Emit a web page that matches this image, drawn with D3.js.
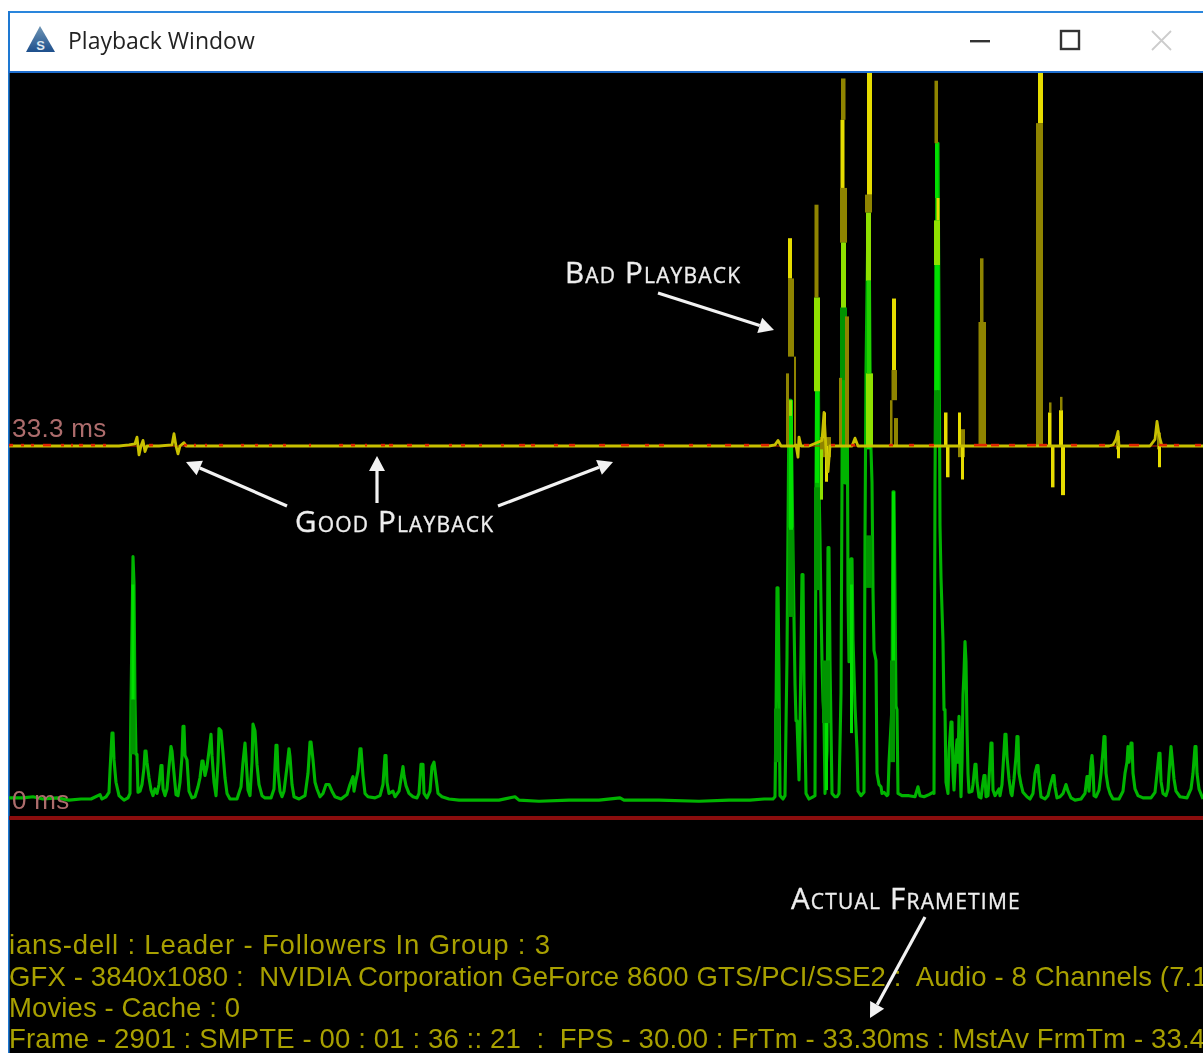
<!DOCTYPE html>
<html><head><meta charset="utf-8">
<style>html,body{margin:0;padding:0;background:#fff;overflow:hidden}svg{display:block}</style>
<script src="https://cdn.jsdelivr.net/npm/d3@7"></script></head><body>
<script>
// frame index, frametime (ms)
const greenTrace=[[0,1.8],[14,1.8],[24,1.9],[34,1.7],[48,1.8],[60,1.6],[72,1.7],[82,1.7],[91,2.1],[93,1.7],[97,1.9],[100,2.3],[101,4.2],[103,7.6],[104,7.6],[105,5.2],[107,3.2],[110,2.0],[115,1.6],[119,1.8],[121,2.2],[122,10.5],[124,23.4],[125,21],[126,10.5],[127,5.7],[128,5.7],[129,2.3],[131,2.4],[133,3.0],[135,4.5],[136,6.0],[137,6.0],[138,5.0],[140,3.6],[142,2.5],[144,2.0],[146,2.6],[148,2.2],[150,3.0],[152,4.7],[153,4.7],[154,2.6],[156,2.0],[158,2.6],[160,4.6],[162,6.4],[163,6.0],[165,4.0],[167,2.1],[169,2.0],[171,3.2],[173,5.5],[174,8.2],[175,8.2],[176,5.6],[178,5.2],[180,2.4],[183,1.8],[186,1.9],[189,2.8],[191,3.6],[193,5.1],[194,5.1],[196,3.8],[198,4.6],[200,6.0],[202,7.5],[203,5.6],[205,3.2],[207,2.0],[209,5.0],[210,8.0],[212,7.8],[214,5.8],[216,3.6],[218,2.2],[221,1.7],[228,1.7],[232,2.8],[234,5.0],[236,6.7],[237,5.4],[239,2.5],[241,2.0],[243,5.0],[244,8.4],[246,7.8],[248,4.8],[250,3.0],[253,2.0],[256,1.8],[262,1.8],[265,2.6],[267,6.5],[268,6.5],[269,4.2],[271,2.4],[273,1.9],[275,2.4],[278,4.6],[280,6.2],[281,5.5],[283,3.0],[285,1.9],[290,1.7],[296,2.0],[299,4.0],[301,6.8],[302,6.8],[304,5.2],[306,3.2],[308,2.6],[311,1.9],[314,2.2],[317,3.0],[320,3.0],[323,2.4],[326,1.9],[332,1.7],[338,2.1],[341,3.0],[344,3.7],[345,2.4],[347,3.4],[349,4.2],[351,6.2],[352,6.2],[354,3.8],[356,2.2],[359,1.9],[366,1.8],[371,2.0],[374,3.0],[376,5.6],[377,5.6],[378,3.2],[380,2.2],[384,2.4],[386,1.9],[390,2.4],[392,3.5],[394,4.6],[395,3.8],[397,2.9],[400,2.2],[404,1.9],[408,1.8],[410,2.2],[412,4.8],[414,4.8],[415,2.2],[418,1.8],[421,2.4],[423,4.6],[425,5.0],[427,3.6],[429,2.2],[433,1.9],[440,1.7],[450,1.6],[470,1.6],[490,1.6],[506,1.9],[510,1.6],[530,1.5],[560,1.6],[590,1.6],[611,1.8],[615,1.6],[650,1.6],[690,1.5],[720,1.6],[741,1.6],[755,1.7],[764,1.7],[766,1.9],[767,9],[768,20.6],[769,20.6],[770,13],[771,2.0],[774,1.7],[776,2.0],[778,14.4],[780,37.4],[782,37.4],[784,24],[785,17.9],[786,12],[787,8.7],[788,8.7],[790,3.4],[791,8],[793,21.8],[794,21.8],[795,12],[796,7.8],[797,2.2],[800,1.7],[804,1.9],[806,2.0],[807,30],[808,46.4],[809,46.4],[810,30],[811,25],[812,19],[813,14],[814,10.5],[815,9],[816,2.2],[818,6],[819,24.2],[820,24.2],[821,14],[823,2.2],[826,1.9],[828,1.9],[830,2.2],[832,11.2],[833,30],[834,51.5],[835,51.5],[836,30],[837,43],[838,43],[839,20],[840,14],[842,23.2],[843,23.2],[844,16],[846,10],[848,6.1],[849,2.4],[852,2.0],[855,2.3],[856,25],[857,40],[859,54],[860,54],[861,41],[862,33],[863,30],[864,20.4],[865,15],[867,14.1],[868,4],[870,3],[872,2.8],[873,2.2],[875,2.3],[876,2.2],[878,2],[879,2.1],[880,5],[883,10],[884,29.2],[885,29.2],[886,20],[887,10],[888,9.7],[889,2.2],[893,2.0],[900,2.0],[906,1.9],[909,2.8],[911,2.0],[915,1.9],[920,2.1],[924,2.3],[925,2.2],[926,30],[928,60.4],[929,60.4],[930,45],[931,26.2],[932,21.5],[934,15.8],[935,9.7],[936,9.7],[937,3.2],[939,2.2],[940,6],[942,8.6],[943,8.6],[944,4],[945,2.5],[947,6],[948,7],[949,5],[950,9.1],[951,5],[952,1.9],[953,5],[954,11],[955,13],[956,15.8],[957,14],[958,8],[959,4],[960,2.3],[963,2.4],[964,3],[966,4.8],[967,4.8],[968,3.2],[970,1.9],[972,1.8],[974,3.2],[975,3.8],[976,3.8],[977,1.9],[979,2],[980,3.5],[982,6.7],[983,6.7],[984,2.5],[986,2.0],[988,2.3],[990,2.6],[991,2.0],[993,3],[995,6],[996,7.5],[997,7.5],[998,5.5],[1000,3.5],[1002,2.2],[1003,2],[1005,3.5],[1007,5.5],[1008,7.3],[1009,7.3],[1010,4],[1012,3],[1014,2.3],[1018,1.9],[1021,1.7],[1024,2.2],[1026,4],[1028,4.7],[1029,4.7],[1030,3.5],[1032,1.9],[1036,1.7],[1039,2],[1041,2.8],[1044,3.8],[1045,3.8],[1046,2.8],[1048,1.8],[1051,1.9],[1054,2.2],[1057,3.0],[1059,2.4],[1062,1.8],[1066,1.6],[1072,1.7],[1076,2.2],[1078,3.7],[1079,3.7],[1080,2.4],[1082,5],[1083,5.6],[1084,4.5],[1085,2],[1087,1.9],[1090,2.5],[1092,4],[1094,6],[1095,7.3],[1096,7.3],[1097,4],[1099,2.8],[1101,2.2],[1104,1.7],[1110,1.7],[1114,2.4],[1116,4],[1118,5],[1119,6.4],[1120,5],[1122,6.7],[1123,6.7],[1124,4],[1126,2.6],[1129,2.0],[1134,1.8],[1142,1.8],[1146,2.3],[1148,4],[1150,5.8],[1151,5.8],[1152,3.3],[1154,2.2],[1157,2.0],[1159,2.6],[1160,4],[1162,6.4],[1163,5.5],[1165,3.5],[1167,2.4],[1171,1.9],[1178,1.8],[1182,2.6],[1184,4],[1186,6.4],[1187,6.4],[1188,4],[1190,2.6],[1194,1.7]];
// [first frame, last frame, low ms, high ms]
const greenDark=[[121.5,126.5,5.7,10.6],[765,771,5,9.8],[779,785,18,26],[805,811,20.4,29.6],[813,821,8.5,14.1],[857,863,20.6,25.3],[881,886,5,14.1],[831,838,39.2,45.7],[925,931,33.3,38.3]];
const greenBright=[[122.5,125.5,10.6,20.9],[780,784,25.8,37.4],[883,886,14.1,29.2],[841,844,7.6,20.9],[816,819,2.5,8.5],[806,810,30,38.2],[858,862,33,39.8],[925.5,930.5,38.3,49.5],[926,929.5,55.5,60.4]];
const limeBars=[[805,811,38.2,46.6],[832,837,45.7,51.5],[857,862,48.1,54.2],[857,864,33.3,39.8],[925,931,49.5,53.5],[780,783,36,37.4],[811,814,28.5,33]];
const limeGreen=[[858,862,39.8,48.1]];
const oliveBars=[[779,785,41.3,48.3],[777,780,33.3,39.8],[785,787,33.3,41.3],[805.5,809.5,46.6,54.9],[832,836.5,62.5,66.2],[831,838,51.5,56.4],[836,840,33.3,44.9],[830,833,33.3,39.4],[856,863,54.2,55.8],[882.5,888,37.4,40.1],[881,883.5,33.3,37.4],[885,889,33.3,35.8],[925.5,929,60.4,66],[971,974.5,44.4,50.1],[969.5,977,33.3,44.4],[1027,1034,33.3,62.2],[1040,1042.5,36.3,37.2],[1051,1053.5,36.5,37.7],[811,822,32.3,34.1],[949,956,32.3,34.8],[1107,1111,33,34.2],[1148,1152,33,34.5]];
const yellowBars=[[779,783,48.3,51.9],[831.5,835.5,56.4,62.5],[858,863,55.8,70],[883,887,40.1,46.5],[927.5,930.5,53.5,55.5],[1029,1034,62.2,70],[1039,1042.5,33.3,36.3],[1042,1045.5,29.6,33.3],[1050,1054,33.3,36.5],[1052,1056,28.9,33.3],[935,938.5,33.3,36.3],[937,940.5,30.5,33.3],[949,952,33.3,36.3],[952,955,30.3,33.3],[1108,1111,32.2,33.3],[1149,1152,31.4,33.3],[814,817,34,36.3],[816,819,30.1,33.3]];
const yellowTrace=[[0,33.3],[110,33.3],[120,33.4],[126,33.5],[128,34.1],[130,32.5],[132,33.3],[134,33.8],[136,32.8],[138,33.3],[150,33.3],[163,33.4],[165,34.4],[167,33.3],[169,32.6],[171,33.3],[175,33.6],[177,33.3],[760,33.3],[766,33.4],[769,33.8],[772,33.3],[785,33.3],[787,33.4],[789,32.3],[790,34.1],[792,33.3],[800,33.3],[813,33.8],[815,36.3],[817,33],[819,31],[821,33.3],[843,33.3],[846,34],[849,33.3],[880,33.3],[934,33.3],[1046,33.3],[1100,33.3],[1104,33.4],[1107,33.9],[1109,34.6],[1110,33.3],[1141,33.3],[1146,33.9],[1148,35.5],[1150,34.3],[1153,33.3],[1160,33.3],[1194,33.3]];
const redBlips=[[0,4],[12,15],[22,25],[34,42],[52,55],[62,64],[70,74],[82,86],[94,97],[140,144],[175,178],[185,187],[196,198],[210,214],[232,235],[246,249],[260,263],[274,277],[300,302],[330,334],[342,346],[356,358],[372,376],[380,384],[398,403],[416,420],[440,443],[452,456],[470,473],[492,495],[510,516],[522,526],[545,549],[560,566],[590,596],[612,620],[636,640],[650,655],[680,684],[698,702],[716,722],[735,740],[752,760],[795,800],[822,826],[842,846],[880,884],[900,905],[920,925],[965,978],[982,990],[1000,1006],[1018,1027],[1030,1038],[1062,1068],[1090,1096],[1120,1130],[1150,1158],[1165,1170],[1186,1192]];
const zeroLine=[0,0];
const msLabels=[{ms:33.3,label:"33.3 ms"},{ms:0,label:"0 ms"}];
const statusLines=["ians-dell : Leader - Followers In Group : 3","GFX - 3840x1080 :  NVIDIA Corporation GeForce 8600 GTS/PCI/SSE2 :  Audio - 8 Channels (7.1)","Movies - Cache : 0","Frame - 2901 : SMPTE - 00 : 01 : 36 :: 21  :  FPS - 30.00 : FrTm - 33.30ms : MstAv FrmTm - 33.4"];
const statusWidths=[541,1208,231,1196];
const notes=[{t:"Good Playback",x:295,y:532},{t:"Bad Playback",x:565,y:283},{t:"Actual Frametime",x:791,y:909}];
const noteArrows=[[287,506,186,462],[377,503,377,456],[498,506,613,462],[658,293,774,330],[925,917,870,1018]];

const W=1203,H=1053;
const svg=d3.select("body").append("svg").attr("width",W).attr("height",H).style("font-family","'Liberation Sans',sans-serif");
const defs=svg.append("defs");
defs.append("filter").attr("id","soft").attr("x","-5%").attr("y","-5%").attr("width","110%").attr("height","110%").append("feGaussianBlur").attr("stdDeviation",0.55);
defs.append("filter").attr("id","softT").append("feGaussianBlur").attr("stdDeviation",0.5);
defs.append("clipPath").attr("id","plot").append("rect").attr("x",9).attr("y",73).attr("width",W-9).attr("height",H-73);
const grad=defs.append("linearGradient").attr("id","ico").attr("x1",0).attr("y1",0).attr("x2",0).attr("y2",1);
grad.append("stop").attr("offset",0).attr("stop-color","#6f95b5");grad.append("stop").attr("offset",1).attr("stop-color","#1d4f8c");

// window chrome
svg.append("rect").attr("width",W).attr("height",H).attr("fill","#fff");
svg.append("rect").attr("x",8).attr("y",11).attr("width",W-8).attr("height",2).attr("fill","#2a86dc");
svg.append("rect").attr("x",8).attr("y",11).attr("width",2).attr("height",H-11).attr("fill","#1e78d2");
svg.append("rect").attr("x",9).attr("y",72).attr("width",W-9).attr("height",H-72).attr("fill","#000");
svg.append("rect").attr("x",8).attr("y",71).attr("width",W-8).attr("height",2).attr("fill","#1f6fd0");
svg.append("rect").attr("x",8).attr("y",73).attr("width",1.6).attr("height",H-73).attr("fill","#1e78d2");
svg.append("path").attr("d","M40 26 L55 52 L26 52 Z").attr("fill","url(#ico)");
svg.append("text").attr("x",40.5).attr("y",50).attr("text-anchor","middle").attr("font-size",13).attr("font-weight",700).attr("fill","#dfe8f0").text("S");
svg.append("text").attr("x",68).attr("y",49).attr("font-family","'Open Sans',sans-serif").attr("font-size",23).attr("fill","#222").attr("filter","url(#softT)").text("Playback Window");
svg.append("rect").attr("x",970).attr("y",40).attr("width",20).attr("height",2.4).attr("fill","#333");
svg.append("rect").attr("x",1061).attr("y",31).attr("width",18).attr("height",18).attr("fill","none").attr("stroke","#333").attr("stroke-width",2.4);
svg.append("path").attr("d","M1152 31 L1171 50 M1171 31 L1152 50").attr("stroke","#ccc").attr("stroke-width",1.8);

const x=d3.scaleLinear().domain([0,1194]).range([9,1203]);
const y=d3.scaleLinear().domain([0,33.3]).range([818,446]);
const line=d3.line().x(d=>x(d[0])).y(d=>y(d[1]));
const plot=svg.append("g").attr("clip-path","url(#plot)").append("g").attr("filter","url(#soft)");

plot.append("line").attr("x1",x(0)).attr("x2",x(1194)).attr("y1",y(zeroLine[0])).attr("y2",y(zeroLine[1])).attr("stroke","#8b0a0a").attr("stroke-width",4);
const labelG=svg.append("g").attr("clip-path","url(#plot)").attr("filter","url(#softT)");
labelG.selectAll("text").data(msLabels).join("text").attr("x",12).attr("y",d=>y(d.ms)-9.5).attr("font-size",26).attr("letter-spacing",0.3).attr("fill","#ad6c6c").text(d=>d.label);

function bars(data,fill){
  plot.append("g").selectAll("rect").data(data).join("rect")
   .attr("x",d=>x(d[0])).attr("width",d=>x(d[1])-x(d[0])).attr("y",d=>y(d[3])).attr("height",d=>y(d[2])-y(d[3])).attr("fill",fill);
}
plot.append("path").datum(greenTrace).attr("d",line).attr("fill","none").attr("stroke","#00b400").attr("stroke-width",3.1).attr("stroke-linejoin","round");
bars(greenDark,"#009400");
bars(greenBright,"#00e000");
plot.append("line").attr("x1",x(0)).attr("x2",x(1194)).attr("y1",y(33.3)).attr("y2",y(33.3)).attr("stroke","#c81e00").attr("stroke-width",1);
bars(oliveBars,"#8f8400");
bars(yellowBars,"#e6dc00");
bars(limeBars,"#8fe000");
bars(limeGreen,"#20d000");
plot.append("path").datum(yellowTrace).attr("d",line).attr("fill","none").attr("stroke","#c8c000").attr("stroke-width",2.8).attr("stroke-linejoin","round");
plot.append("g").selectAll("line").data(redBlips).join("line").attr("x1",d=>x(d[0])).attr("x2",d=>x(d[1])).attr("y1",y(33.38)).attr("y2",y(33.38)).attr("stroke","#e02800").attr("stroke-width",2.6);

// status text
const st=svg.append("g").attr("clip-path","url(#plot)").attr("filter","url(#softT)");
st.selectAll("text").data(statusLines).join("text").attr("x",9).attr("y",(d,i)=>[954,985.5,1017,1048][i]).attr("font-size",27.5).attr("fill","#a8a000").attr("textLength",(d,i)=>statusWidths[i]).attr("lengthAdjust","spacing").style("white-space","pre").attr("xml:space","preserve").text(d=>d);

// annotations
const an=svg.append("g").attr("filter","url(#softT)");
an.selectAll("text").data(notes).join("text").attr("x",d=>d.x).attr("y",d=>d.y).attr("font-family","'Open Sans',sans-serif").attr("font-size",29.5).attr("letter-spacing",1.2).style("font-variant","small-caps").attr("fill","#eee").attr("stroke","#eee").attr("stroke-width",0.35).text(d=>d.t);
an.selectAll("g.a").data(noteArrows).join("g").attr("class","a").each(function(d){
  const g=d3.select(this),a=Math.atan2(d[3]-d[1],d[2]-d[0]),L=15,w=8;
  const bx=d[2]-L*Math.cos(a),by=d[3]-L*Math.sin(a);
  g.append("line").attr("x1",d[0]).attr("y1",d[1]).attr("x2",bx).attr("y2",by).attr("stroke","#f2f2f2").attr("stroke-width",3.2);
  g.append("path").attr("fill","#f2f2f2").attr("d",`M${d[2]} ${d[3]} L${bx-w*Math.sin(a)} ${by+w*Math.cos(a)} L${bx+w*Math.sin(a)} ${by-w*Math.cos(a)} Z`);
});
</script></body></html>
